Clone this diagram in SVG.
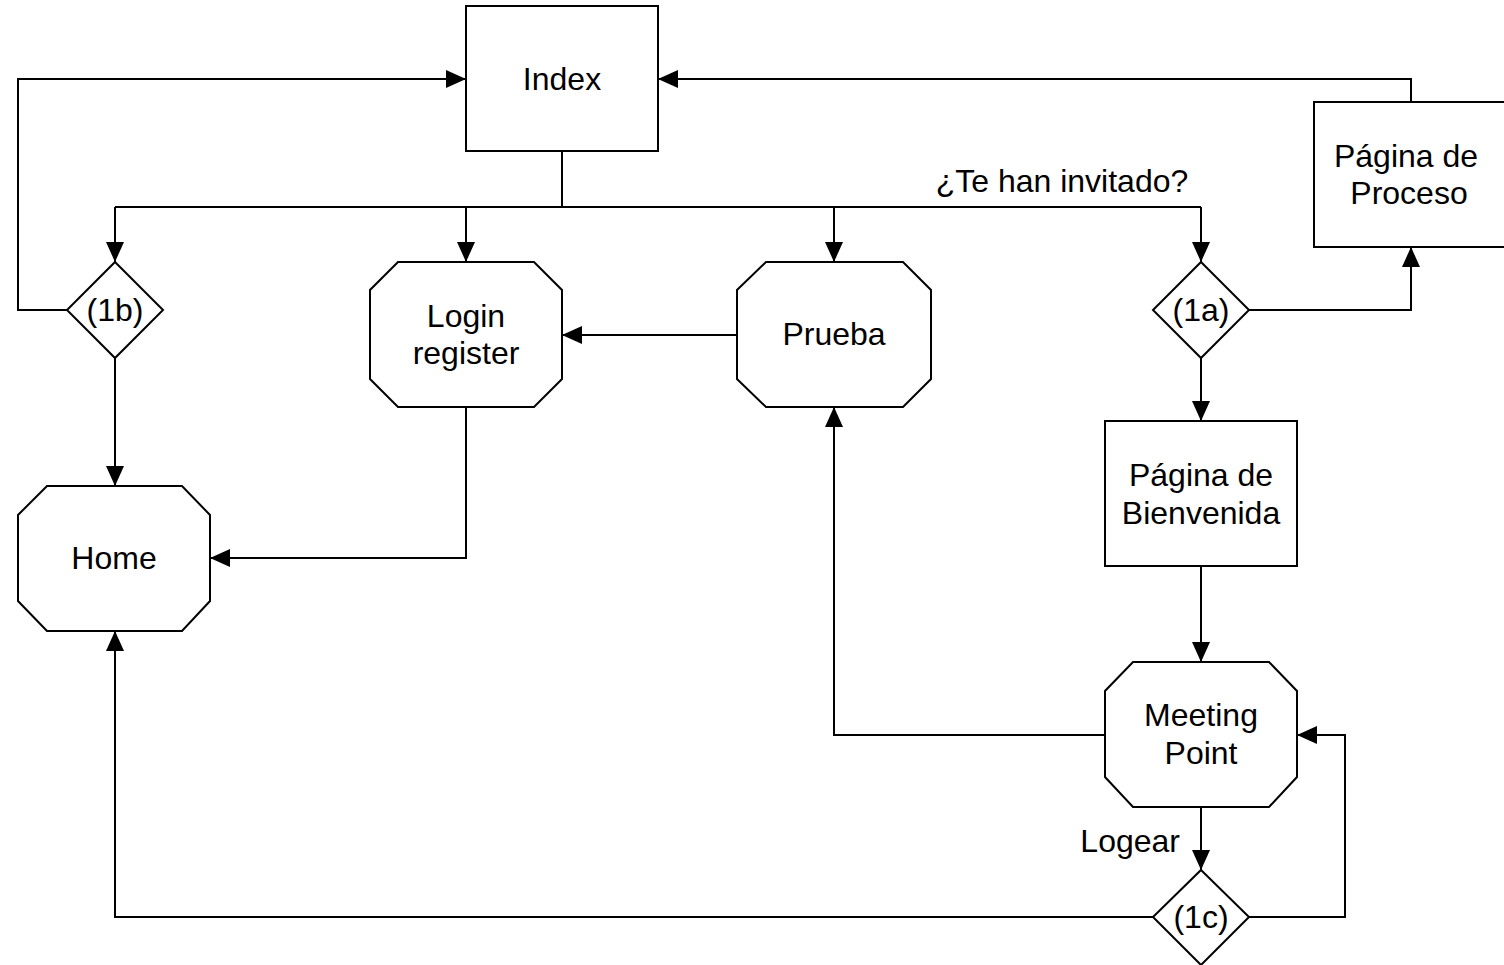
<svg xmlns="http://www.w3.org/2000/svg" width="1504" height="965" viewBox="0 0 1504 965">
<defs>
<style>
.shape{fill:#fff;stroke:#000;stroke-width:2}
.conn{fill:none;stroke:#000;stroke-width:2}
.arr{marker-end:url(#ah)}
text{font-family:"Liberation Sans",Arial,sans-serif;font-size:32px;fill:#000;text-anchor:middle}
</style>
<marker id="ah" markerUnits="userSpaceOnUse" markerWidth="20" markerHeight="18" refX="20" refY="9" orient="auto">
<path d="M0,0 L20,9 L0,18 z" fill="#000"/>
</marker>
</defs>
<rect width="1504" height="965" fill="#fff"/>
<g id="connectors">
<path class="conn" d="M562,151 V207"/>
<path class="conn" d="M115,207 H1201"/>
<path class="conn arr" d="M115,207 V262"/>
<path class="conn arr" d="M466,207 V262"/>
<path class="conn arr" d="M834,207 V262"/>
<path class="conn arr" d="M1201,207 V262"/>
<path class="conn arr" d="M67,310 H18 V79 H466"/>
<path class="conn arr" d="M115,358 V486"/>
<path class="conn arr" d="M737,335 H562"/>
<path class="conn arr" d="M466,407 V558 H210"/>
<path class="conn arr" d="M1249,310 H1411 V247"/>
<path class="conn arr" d="M1411,102 V79 H658"/>
<path class="conn arr" d="M1201,358 V421"/>
<path class="conn arr" d="M1201,566 V662"/>
<path class="conn arr" d="M1105,735 H834 V407"/>
<path class="conn arr" d="M1201,807 V870"/>
<path class="conn arr" d="M1153,917 H115 V631"/>
<path class="conn arr" d="M1249,917 H1345 V735 H1297"/>
<text x="1062" y="192">¿Te han invitado?</text>
<text x="1180" y="852" style="text-anchor:end">Logear</text>
</g>
<g id="index">
<rect class="shape" x="466" y="6" width="192" height="145"/>
<text x="562" y="90">Index</text>
</g>
<g id="decision-1b">
<polygon class="shape" points="115,262 163,310 115,358 67,310"/>
<text x="115" y="321">(1b)</text>
</g>
<g id="login-register">
<polygon class="shape" points="398,262 534,262 562,290 562,379 534,407 398,407 370,379 370,290"/>
<text x="466" y="327">Login</text>
<text x="466" y="364">register</text>
</g>
<g id="prueba">
<polygon class="shape" points="766,262 903,262 931,290 931,379 903,407 766,407 737,379 737,290"/>
<text x="834" y="345">Prueba</text>
</g>
<g id="decision-1a">
<polygon class="shape" points="1201,262 1249,310 1201,358 1153,310"/>
<text x="1201" y="321">(1a)</text>
</g>
<g id="pagina-proceso">
<rect class="shape" x="1314" y="102" width="192" height="145"/>
<text x="1406" y="167">Página de</text>
<text x="1409" y="204">Proceso</text>
</g>
<g id="home">
<polygon class="shape" points="47,486 182,486 210,515 210,601 182,631 47,631 18,601 18,515"/>
<text x="114" y="569">Home</text>
</g>
<g id="pagina-bienvenida">
<rect class="shape" x="1105" y="421" width="192" height="145"/>
<text x="1201" y="486">Página de</text>
<text x="1201" y="524">Bienvenida</text>
</g>
<g id="meeting-point">
<polygon class="shape" points="1133,662 1269,662 1297,691 1297,777 1269,807 1133,807 1105,777 1105,691"/>
<text x="1201" y="726">Meeting</text>
<text x="1201" y="764">Point</text>
</g>
<g id="decision-1c">
<polygon class="shape" points="1201,870 1249,917 1201,965 1153,917"/>
<text x="1201" y="928">(1c)</text>
</g>
</svg>
